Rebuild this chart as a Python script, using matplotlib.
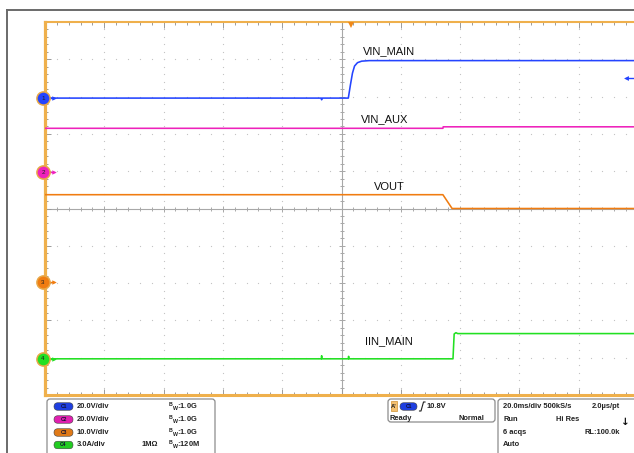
"""
Scope capture: VIN_MAIN / VIN_AUX / VOUT / IIN_MAIN switchover.
Redrawn with matplotlib, screen laid out like the Tek display.
"""

import matplotlib
matplotlib.use('Agg')
import matplotlib.pyplot as plt
import matplotlib.transforms as mtransforms
from matplotlib.patches import FancyBboxPatch
import numpy as np

W, H, DPI = 634, 453, 100

# ------------------------------------------------------------
# channel setup
# ------------------------------------------------------------
ch_names = ["VIN_MAIN", "VIN_AUX", "VOUT", "IIN_MAIN"]
ch_scale = [20.0, 20.0, 10.0, 3.0]          # units per division
ch_pos = [2.96, 0.97, -1.98, -4.03]          # ground marker, divisions from centre
ch_colors = ["#2444ff", "#ee22bb", "#f07c10", "#22e022"]
ch_pill = ["#1f3fe0", "#e020b0", "#e07a18", "#22cc22"]
ch_scale_text = ["20.0V/div", "20.0V/div", "10.0V/div", "3.0A/div"]
ch_bw_text = ["1.0G", "1.0G", "1.0G", "120M"]

time_per_div = 20.0      # ms/div
trigger_time = 3.3       # ms from screen centre
trigger_level = 10.8     # V on C1

# ------------------------------------------------------------
# traces (time in ms from screen centre)
# ------------------------------------------------------------
t_vin_main = [-100, -6.9, -6.7, -6.5, 2.3, 3.0, 3.7, 4.4, 5.4, 6.8, 9.4, 100]
v_vin_main = [0.0, 0.0, -0.9, 0.0, 0.0, 7.0, 13.4, 17.2, 19.0, 19.8, 20.1, 20.1]

t_vin_aux = [-100, 34.2, 34.3, 100]
v_vin_aux = [23.6, 23.6, 24.4, 24.4]

t_vout = [-100, 34.2, 37.3, 100]
v_vout = [23.5, 23.5, 19.8, 19.8]

t_iin = [-100, -6.8, -6.7, -6.6, 2.3, 2.4, 2.5, 37.6, 38.0, 38.6, 39.2, 100]
i_iin = [0.0, 0.0, 0.25, 0.0, 0.0, 0.2, 0.0, 0.0, 2.0, 2.1, 2.03, 2.03]

traces_t = [t_vin_main, t_vin_aux, t_vout, t_iin]
traces_v = [v_vin_main, v_vin_aux, v_vout, i_iin]

# label anchors (ms, divisions)
label_x = [7.1, 6.4, 10.8, 7.8]
label_y = [4.23, 2.39, 0.57, -3.56]

plt.rcParams['font.family'] = ['Liberation Sans', 'DejaVu Sans']

fig = plt.figure(figsize=(W / DPI, H / DPI), dpi=DPI)
fig.patch.set_facecolor('white')

# plot area: left 45px, top 22px, 10 x 10 divisions (right edge runs off screen)
ax = fig.add_axes([45 / W, (H - 395) / H, 593 / W, 373 / H])
ax.set_xlim(-5 * time_per_div, 5 * time_per_div)
ax.set_ylim(-5, 5)
ax.set_facecolor('white')

orange = '#efb04c'
for side, lw in [('left', 2.3), ('top', 1.5), ('bottom', 2.2)]:
    ax.spines[side].set_color(orange)
    ax.spines[side].set_linewidth(lw)
ax.spines['right'].set_visible(False)

ax.set_xticks(np.arange(-100, 101, 20))
ax.set_xticks(np.arange(-100, 101, 4), minor=True)
ax.set_yticks(np.arange(-5, 6, 1))
ax.set_yticks(np.arange(-5, 5.01, 0.2), minor=True)
ax.tick_params(which='both', direction='in', top=True, bottom=True,
               left=True, right=False, labelbottom=False, labelleft=False,
               color='#9a9a9a', width=0.7)
ax.tick_params(which='major', length=4)
ax.tick_params(which='minor', length=2.3)

# dotted graticule
dot_color = '#c4c4c4'
xs = np.arange(-100, 101, 4)
for yy in range(-4, 5):
    if yy == 0:
        continue
    ax.plot(xs, np.full_like(xs, yy, dtype=float), ls='none', marker='s',
            ms=0.8, mew=0, color=dot_color, zorder=1)
ys = np.arange(-5, 5.01, 0.2)
for xx in range(-80, 81, 20):
    if xx == 0:
        continue
    ax.plot(np.full_like(ys, xx, dtype=float), ys, ls='none', marker='s',
            ms=0.8, mew=0, color=dot_color, zorder=1)

# centre cross with ticks
axis_gray = '#a8a8a8'
ax.axhline(0, color=axis_gray, lw=0.8, zorder=1)
ax.axvline(0, color=axis_gray, lw=0.8, zorder=1)
ax.plot(xs, np.zeros_like(xs, dtype=float), ls='none', marker='|', ms=3.2,
        mew=0.7, color=axis_gray, zorder=1)
ax.plot(np.zeros_like(ys), ys, ls='none', marker='_', ms=3.2,
        mew=0.7, color=axis_gray, zorder=1)
maj_x = np.arange(-100, 101, 20)
ax.plot(maj_x, np.zeros_like(maj_x, dtype=float), ls='none', marker='|', ms=4.6,
        mew=0.7, color=axis_gray, zorder=1)
maj_y = np.arange(-5, 6, 1.0)
ax.plot(np.zeros_like(maj_y), maj_y, ls='none', marker='_', ms=4.6,
        mew=0.7, color=axis_gray, zorder=1)

# traces
for t, v, sc, pos, col in zip(traces_t, traces_v, ch_scale, ch_pos, ch_colors):
    ax.plot(t, pos + np.asarray(v) / sc, color=col, lw=1.15, zorder=3)

for name, lx, ly in zip(ch_names, label_x, label_y):
    ax.text(lx, ly, name, fontsize=8, color='#111111', ha='left', va='center',
            zorder=4)

# ground markers on the left edge
blend_y = mtransforms.blended_transform_factory(ax.transAxes, ax.transData)
for i, (pos, col) in enumerate(zip(ch_pos, ch_colors)):
    ax.plot([0.004, 0.015], [pos, pos], color=col, lw=1.0,
            transform=blend_y, clip_on=False, zorder=5)
    ax.plot([0.0155], [pos], marker='>', ms=3.2, color=col, mew=0,
            transform=blend_y, clip_on=False, zorder=5)
    ax.plot([-0.0035], [pos], marker='o', ms=9.5, mfc=col, mec='#e8a848',
            mew=1.1, transform=blend_y, clip_on=False, zorder=6)
    ax.text(-0.0035, pos, str(i + 1), fontsize=4.5, color='#202020',
            ha='center', va='center', transform=blend_y, zorder=7)

# trigger position (top) and trigger level (right)
blend_x = mtransforms.blended_transform_factory(ax.transData, ax.transAxes)
ax.plot([trigger_time], [0.9915], marker='v', ms=5, color='#f08818', mew=0,
        transform=blend_x, clip_on=False, zorder=6)
trig_div = ch_pos[0] + trigger_level / ch_scale[0]
ax.plot([96.0, 100.0], [trig_div, trig_div], color=ch_colors[0], lw=1.0,
        clip_on=False, zorder=5)
ax.plot([96.0], [trig_div], marker='<', ms=3.5, mew=0, color=ch_colors[0],
        clip_on=False, zorder=5)

# ------------------------------------------------------------
# screen frame + readout panels (pixel coords from top-left)
# ------------------------------------------------------------
inch = fig.dpi_scale_trans


def P(x, y):
    return (x / DPI, (H - y) / DPI)


frame_col = '#6a6a6a'
fig.add_artist(plt.Line2D([7 / DPI, 7 / DPI], [0, (H - 10) / DPI],
                          transform=inch, color=frame_col, lw=1.4))
fig.add_artist(plt.Line2D([7 / DPI, W / DPI], [(H - 10) / DPI, (H - 10) / DPI],
                          transform=inch, color=frame_col, lw=1.4))


def panel(x0, y0, x1, y1):
    p = FancyBboxPatch(P(x0, y1), (x1 - x0) / DPI, (y1 - y0) / DPI,
                       boxstyle='round,pad=0,rounding_size=0.03',
                       transform=inch, fc='white', ec='#8c8c8c', lw=0.9)
    fig.add_artist(p)


def pill(x0, yc, w, h, col, txt):
    p = FancyBboxPatch(P(x0, yc + h / 2), w / DPI, h / DPI,
                       boxstyle='round,pad=0,rounding_size=%f' % (h / 2 / DPI),
                       transform=inch, fc=col, ec='#404040', lw=0.4)
    fig.add_artist(p)
    fig.text(*P(x0 + w / 2, yc), txt, transform=inch, fontsize=3.6,
             color='#101030', ha='center', va='center', weight='bold')


def rtext(x, y, s, ha='left'):
    fig.text(*P(x, y), s, transform=inch, fontsize=5.4, weight='bold',
             color='#222222', ha=ha, va='center')


panel(47, 399, 215, 470)
panel(388, 399, 495, 422)
panel(498, 399, 660, 470)

rows = [406.5, 419.5, 432.5, 445.0]
for i in range(4):
    pill(54, rows[i], 19, 7.5, ch_pill[i], "C%d" % (i + 1))
    rtext(77, rows[i], ch_scale_text[i])
    rtext(168, rows[i], r"$\mathregular{^B{}_W}$:" + ch_bw_text[i])
rtext(141.5, rows[3], "1M\u03a9")

# trigger panel
fig.add_artist(FancyBboxPatch(P(390.5, 411), 6 / DPI, 10 / DPI,
                              boxstyle='square,pad=0', transform=inch,
                              fc='#f4c070', ec='#d09030', lw=0.5))
fig.text(*P(391.2, 406), "A'", transform=inch, fontsize=4.2, weight='bold',
         color='#202020', ha='left', va='center')
pill(400, 406.5, 17, 7.5, ch_pill[0], "C1")
fig.add_artist(plt.Line2D([419.5 / DPI, 421 / DPI, 423.5 / DPI, 425 / DPI],
                          [(H - 411) / DPI, (H - 411) / DPI,
                           (H - 402) / DPI, (H - 402) / DPI],
                          transform=inch, color='#202020', lw=0.8))
rtext(426.5, 406.5, "10.8V")
rtext(390, 418, "Ready")
rtext(484, 418, "Normal", ha='right')

# acquisition panel
rtext(503, rows[0], "20.0ms/div 500kS/s")
rtext(620, rows[0], "2.0\u00b5s/pt", ha='right')
rtext(503, rows[1], "Run")
rtext(555.5, rows[1], "Hi Res")
fig.text(*P(625, 421.5), "\u2193", transform=inch, fontsize=7.5, weight='bold',
         color='#111111', ha='center', va='center', family='DejaVu Sans')
rtext(503, rows[2], "6 acqs")
rtext(620, rows[2], "RL:100.0k", ha='right')
rtext(503, rows[3], "Auto")

fig.savefig("out.png", dpi=DPI)
print("Saved: out.png")
